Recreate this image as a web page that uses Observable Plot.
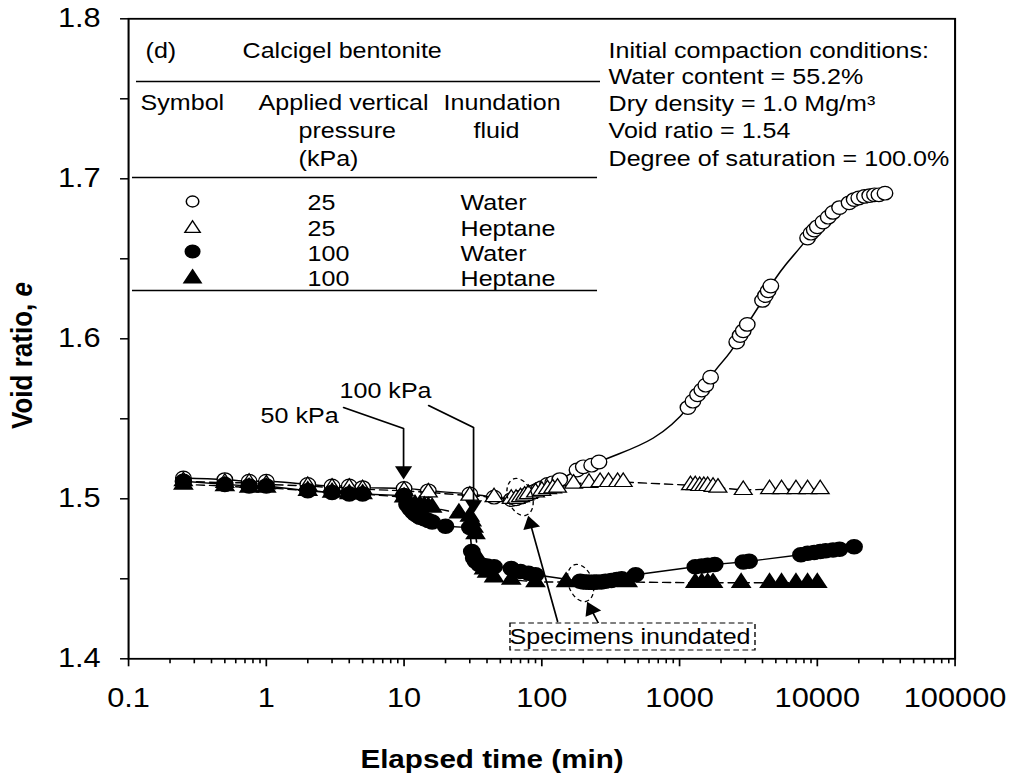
<!DOCTYPE html>
<html><head><meta charset="utf-8">
<script src="https://cdn.jsdelivr.net/npm/d3@7"></script>
<script src="https://cdn.jsdelivr.net/npm/@observablehq/plot@0.6"></script>
<style>html,body{margin:0;padding:0;background:#fff;} #chart{width:1013px;height:778px;overflow:hidden}</style>
</head><body><div id="chart"></div>
<script>
// ---------- data (elapsed time in min, void ratio e) ----------
// 25 kPa, water (open circles, solid)
const tA = [0.25,0.5,0.75,1,2,3,4,5,10,15,30,45,60,65,70,75,80,85,90,95,100,110,120,135,180,200,230,260,1150,1250,1350,1450,1550,1680,2600,2750,2900,3100,4000,4200,4400,4600,8500,9000,9500,10000,11000,12000,13000,14500,17000,18500,20000,22000,24000,26000,28000,31000];
const eA = [1.513,1.512,1.511,1.511,1.509,1.508,1.508,1.507,1.5065,1.505,1.503,1.501,1.4995,1.500,1.501,1.502,1.503,1.504,1.505,1.506,1.507,1.509,1.510,1.512,1.518,1.520,1.521,1.523,1.557,1.561,1.565,1.568,1.571,1.576,1.598,1.602,1.605,1.609,1.624,1.627,1.630,1.633,1.663,1.666,1.668,1.670,1.673,1.676,1.679,1.682,1.685,1.687,1.688,1.689,1.6895,1.690,1.690,1.691];
// 25 kPa, heptane (open triangles, dashed)
const tB = [0.25,0.5,0.75,1,2,3,4,5,10,15,30,45,60,65,70,75,80,90,100,110,120,130,170,220,265,305,355,390,1200,1300,1400,1500,1600,1750,1900,2900,4500,5500,7000,8500,10500];
const eB = [1.511,1.510,1.510,1.509,1.508,1.507,1.507,1.506,1.505,1.504,1.502,1.501,1.500,1.500,1.501,1.502,1.503,1.504,1.505,1.506,1.5065,1.507,1.5095,1.510,1.5105,1.5105,1.5105,1.5105,1.5085,1.5085,1.508,1.508,1.508,1.5075,1.507,1.5055,1.506,1.506,1.506,1.506,1.506];
// 100 kPa, water (filled circles, solid)
const tC = [0.25,0.5,0.75,1,2,3,4,5,10,10.5,11,11.5,12,12.5,13,14,15,16,20,30,31,32,33,35,37,40,45,60,70,80,90,190,200,210,220,230,240,250,270,290,320,350,380,480,1300,1450,1600,1800,2900,3200,7600,8500,9500,10500,11500,13000,14500,18500];
const eC = [1.511,1.509,1.508,1.508,1.505,1.504,1.503,1.503,1.502,1.4965,1.494,1.492,1.4905,1.4895,1.4885,1.4875,1.4865,1.4855,1.4828,1.482,1.467,1.463,1.461,1.459,1.4585,1.458,1.4575,1.4565,1.4545,1.4535,1.4525,1.4485,1.448,1.448,1.4478,1.4478,1.4478,1.448,1.448,1.4485,1.449,1.4495,1.450,1.4525,1.4575,1.458,1.4585,1.459,1.4605,1.461,1.465,1.466,1.4665,1.467,1.4675,1.468,1.4685,1.470];
// 100 kPa, heptane (filled triangles, dashed)
const tD = [0.25,0.5,0.75,1,2,3,4,5,10,11,12,13,14,15,16,25,30,31,32,33,35,38,40,45,60,90,150,420,1300,1450,1600,1750,2800,4500,5500,7000,8500,10000];
const eD = [1.509,1.508,1.507,1.507,1.505,1.504,1.503,1.503,1.501,1.497,1.4965,1.496,1.4955,1.495,1.4945,1.491,1.489,1.486,1.482,1.478,1.462,1.456,1.454,1.451,1.4495,1.448,1.448,1.448,1.4475,1.4475,1.4475,1.4475,1.4475,1.4475,1.4475,1.4475,1.4475,1.4475];

// ---------- axes ----------
const xMajor = [0.1, 1, 10, 100, 1000, 10000, 100000];
const xTickLabels = ["0.1", "1", "10", "100", "1000", "10000", "100000"];
const xMinor = xMajor.slice(0, -1).flatMap(d => [2,3,4,5,6,7,8,9].map(k => d * k));
const yMajor = [1.4, 1.5, 1.6, 1.7, 1.8];
const yTickLabels = ["1.4", "1.5", "1.6", "1.7", "1.8"];
const yMinor = [1.45, 1.55, 1.65, 1.75];

// ---------- legend table ----------
const headerTexts = [
  {t: 0.1329, e: 1.7802, s: "(d)"},
  {t: 0.6722, e: 1.7802, s: "Calcigel bentonite"},
  {t: 0.1222, e: 1.7471, s: "Symbol"},
  {t: 0.8784, e: 1.7471, s: "Applied vertical"},
  {t: 19.36, e: 1.7471, s: "Inundation"},
  {t: 1.714, e: 1.7296, s: "pressure"},
  {t: 31.95, e: 1.7296, s: "fluid"},
  {t: 1.714, e: 1.7127, s: "(kPa)"}
];
const legendPressure = ["25", "25", "100", "100"];
const legendFluid = ["Water", "Heptane", "Water", "Heptane"];
const legendRowE = [1.6846, 1.6689, 1.6533, 1.6377];
const legendSymE = [1.6858, 1.6689, 1.6546, 1.6377];
const tableRules = [
  {e: 1.7608, t1: 0.1143, t2: 267},
  {e: 1.7008, t1: 0.1069, t2: 254},
  {e: 1.6302, t1: 0.1069, t2: 254}
];
const conditionLines = [
  "Initial compaction conditions:",
  "Water content = 55.2%",
  "Dry density = 1.0 Mg/m³",
  "Void ratio = 1.54",
  "Degree of saturation = 100.0%"
];
const conditionE = [1.7802, 1.7636, 1.7467, 1.7296, 1.7121];

// ---------- annotations ----------
const arrow50 = [{t: 3.637, e: 1.55706}, {t: 9.917, e: 1.54394}, {t: 9.917, e: 1.5189}];
const arrow100 = [{t: 15.07, e: 1.55831}, {t: 31.95, e: 1.54456}, {t: 31.95, e: 1.4989}];
const arrowIn1 = [{t: 130.2, e: 1.42331}, {t: 82.8, e: 1.4842}];
const arrowIn2 = [{t: 258.2, e: 1.42206}, {t: 228.6, e: 1.43075}];
const heads = [
  {t: 9.917, e: 1.51756, a: 180},
  {t: 31.95, e: 1.49631, a: 180},
  {t: 82.8, e: 1.48419, a: -13.7},
  {t: 228.6, e: 1.43075, a: -24.7}
];
const rings = [{t: 69.5, e: 1.50113}, {t: 191.1, e: 1.44738}];
const box = [{t1: 59.3, t2: 3562, e1: 1.40519, e2: 1.42206}];

// ---------- layout ----------
const H = 778, DW = 1013, W = 889;
const S = DW / W;
const FONT = "'Liberation Sans', Arial, Helvetica, sans-serif";

const rows = (ts, es) => ts.map((t, i) => ({t, e: es[i]}));
const A = rows(tA, eA), B = rows(tB, eB), C = rows(tC, eC), D = rows(tD, eD);

const ellipse = {
  draw(ctx, size) {
    const R = Math.sqrt(size / Math.PI), rx = R * 0.57, ry = R, k = 0.5523;
    ctx.moveTo(rx, 0);
    ctx.bezierCurveTo(rx, ry * k, rx * k, ry, 0, ry);
    ctx.bezierCurveTo(-rx * k, ry, -rx, ry * k, -rx, 0);
    ctx.bezierCurveTo(-rx, -ry * k, -rx * k, -ry, 0, -ry);
    ctx.bezierCurveTo(rx * k, -ry, rx, -ry * k, rx, 0);
    ctx.closePath();
  }
};

const dash = "7,4.5";
const T = (data, opts) => Plot.text(data, {fontSize: 22, fill: "black", textAnchor: "start", ...opts});

const chart = Plot.plot({
  width: W, height: H,
  marginLeft: 128 / S, marginRight: W - 954.5 / S, marginTop: 18.3, marginBottom: H - 658.3,
  style: {fontFamily: FONT, background: "white", color: "black"},
  x: {type: "log", domain: [0.1, 100000], label: null},
  y: {domain: [1.4, 1.8], label: null},
  marks: [
    // table
    Plot.ruleY(tableRules, {y: "e", x1: "t1", x2: "t2", stroke: "black", strokeWidth: 1.6}),
    T(headerTexts, {x: "t", y: "e", text: "s"}),
    T(legendPressure, {x: () => 1.993, y: (d, i) => legendRowE[i], text: d => d}),
    T(legendFluid, {x: () => 25.72, y: (d, i) => legendRowE[i], text: d => d}),
    Plot.dot([0], {x: () => 0.2914, y: () => legendSymE[0], r: 5.5, symbol: "circle", fill: "white", stroke: "black", strokeWidth: 1.3}),
    Plot.dot([0], {x: () => 0.2914, y: () => legendSymE[1], r: 5, symbol: "triangle", fill: "white", stroke: "black", strokeWidth: 1.3}),
    Plot.dot([0], {x: () => 0.2914, y: () => legendSymE[2], r: 6.3, symbol: "circle", fill: "black", stroke: "black"}),
    Plot.dot([0], {x: () => 0.2914, y: () => legendSymE[3], r: 5.5, symbol: "triangle", fill: "black", stroke: "black"}),
    T(conditionLines, {x: () => 305.2, y: (d, i) => conditionE[i], text: d => d}),

    // series
    Plot.line(A, {x: "t", y: "e", curve: "monotone-x", stroke: "black", strokeWidth: 1.4}),
    Plot.dot(A, {x: "t", y: "e", r: 6.8, symbol: "circle", fill: "white", stroke: "black", strokeWidth: 1.2}),
    Plot.line(B, {x: "t", y: "e", stroke: "black", strokeWidth: 1.4, strokeDasharray: dash}),
    Plot.dot(B, {x: "t", y: "e", r: 5.8, symbol: "triangle", fill: "white", stroke: "black", strokeWidth: 1.2}),
    Plot.line(C, {x: "t", y: "e", stroke: "black", strokeWidth: 1.4}),
    Plot.dot(C, {x: "t", y: "e", r: 7, symbol: "circle", fill: "black", stroke: "black"}),
    Plot.line(D, {x: "t", y: "e", stroke: "black", strokeWidth: 1.4, strokeDasharray: dash}),
    Plot.dot(D, {x: "t", y: "e", r: 5.8, symbol: "triangle", fill: "black", stroke: "black"}),

    // annotations
    Plot.dot(rings, {x: "t", y: "e", r: 19, symbol: ellipse, fill: "none", stroke: "black", strokeWidth: 1.2, strokeDasharray: "4,3", rotate: -15}),
    Plot.line(arrow50, {x: "t", y: "e", stroke: "black", strokeWidth: 1.5}),
    Plot.line(arrow100, {x: "t", y: "e", stroke: "black", strokeWidth: 1.5}),
    Plot.line(arrowIn1, {x: "t", y: "e", stroke: "black", strokeWidth: 1.5}),
    Plot.line(arrowIn2, {x: "t", y: "e", stroke: "black", strokeWidth: 1.5}),
    Plot.dot(heads, {x: "t", y: "e", r: 5.6, symbol: "triangle", fill: "black", stroke: "none", rotate: "a"}),
    T([0], {x: () => 3.346, y: () => 1.55206, text: () => "50 kPa", textAnchor: "end"}),
    T([0], {x: () => 3.403, y: () => 1.56769, text: () => "100 kPa"}),
    Plot.rect(box, {x1: "t1", x2: "t2", y1: "e1", y2: "e2", fill: "white", stroke: "black", strokeWidth: 1.2, strokeDasharray: "5,3"}),
    T([0], {x: () => 437, y: () => 1.41363, text: () => "Specimens inundated", textAnchor: "middle"}),

    // axes
    Plot.frame({stroke: "black", strokeWidth: 1.8}),
    Plot.axisX(xMinor, {tickSize: 5, tickFormat: () => "", strokeWidth: 1.4, label: null}),
    Plot.axisX(xMajor, {tickSize: 8, tickPadding: 21, fontSize: 27, strokeWidth: 1.5, label: null,
      tickFormat: d => xTickLabels[xMajor.indexOf(d)]}),
    Plot.axisY(yMinor, {tickSize: 7, tickFormat: () => "", strokeWidth: 1.5, label: null}),
    Plot.axisY(yMajor, {tickSize: 7, tickPadding: 17.5, fontSize: 27, strokeWidth: 1.5, label: null,
      tickFormat: d => yTickLabels[yMajor.indexOf(d)]}),
    Plot.text([0], {x: () => 43.5, y: () => 1.33706, text: () => "Elapsed time (min)", fontSize: 26, fontWeight: "bold", fill: "black"}),
    Plot.text([0], {x: () => 0.017, y: () => 1.58956, text: () => "Void ratio, e", fontSize: 26, fontWeight: "bold", rotate: -90, fill: "black"})
  ]
});

chart.setAttribute("width", DW);
chart.setAttribute("height", H);
chart.setAttribute("preserveAspectRatio", "none");
chart.style.width = DW + "px";
chart.style.height = H + "px";
chart.style.maxWidth = "none";
chart.querySelectorAll("text").forEach(el => {
  if (el.textContent === "Void ratio, e") {
    el.innerHTML = 'Void ratio, <tspan font-style="italic">e</tspan>';
  }
});
document.getElementById("chart").append(chart);
</script>
</body></html>
